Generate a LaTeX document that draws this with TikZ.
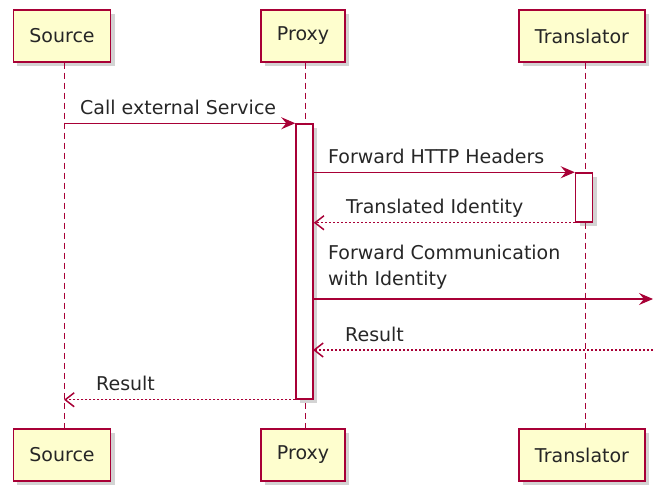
\documentclass[tikz,border=0pt]{standalone}
\usepackage{fontspec}
\setmainfont{DejaVu Sans}
\usepackage{xcolor}
\usepackage{tikz}
\usetikzlibrary{positioning}
\usetikzlibrary{arrows.meta,shadows}
\definecolor{umlred}{RGB}{168,0,54}
\definecolor{umlfill}{RGB}{254,254,206}

\begin{document}
\begin{tikzpicture}[x=1pt,y=-1pt,
        part/.style={draw=umlred,fill=umlfill,line width=1.5pt,minimum height=52pt,inner xsep=16pt,
          text=black!85,font=\fontsize{19pt}{23pt}\selectfont,
          drop shadow={shadow xshift=4pt,shadow yshift=-4pt,opacity=0.35}},
        life/.style={draw=umlred,line width=1pt,dash pattern=on 6pt off 4pt},
        act/.style={draw=umlred,fill=white,line width=1.5pt,minimum width=17pt,inner sep=0pt,
          drop shadow={shadow xshift=4pt,shadow yshift=-4pt,opacity=0.35}},
        call/.style={draw=umlred,line width=1.2pt,-{Stealth[length=14pt,width=12pt,inset=5pt]}},
        reply/.style={draw=umlred,line width=1.2pt,dash pattern=on 2pt off 2pt,
          -{Straight Barb[length=9pt,width=14pt,line width=1.5pt]}},
        msg/.style={anchor=base west,inner sep=0pt,text=black!85,align=left,
          font=\fontsize{19pt}{26pt}\selectfont}]
        \useasboundingbox (0,0) rectangle (653,486);
        % participants
        \node[part] (src) at (62,36) {Source};
        \node[part] (prx) at (303,36) {Proxy};
        \node[part] (trn) at (582,36) {Translator};
        \node[part] (srcB) at (62,455) {Source};
        \node[part] (prxB) at (303,455) {Proxy};
        \node[part] (trnB) at (582,455) {Translator};
        \draw[life] (src.south -| 64,0) -- (srcB.north -| 64,0);
        \draw[life] (prx.south -| 305,0) -- (prxB.north -| 305,0);
        \draw[life] (trn.south -| 585,0) -- (trnB.north -| 585,0);
        % activations
        \node[act,minimum height=275pt] (actP) at (304.5,261.5) {};
        \node[act,minimum height=49pt] (actT) at (584,197.5) {};
        \coordinate (m4a) at (313,299);
        \coordinate (m4b) at (653,299);
        \coordinate (m5a) at (653,350);
        \coordinate (m5b) at (313,350);
        % messages
        \draw[call] (64,0 |- actP.north) -- (actP.north west);
        \node[msg] (l1) at (80,115) {Call external Service};
        \draw[call] (actP.east |- actT.north) -- (actT.north west);
        \node[msg] (l2) at (328,164) {Forward HTTP Headers};
        \draw[reply] (actT.south west) -- (actP.east |- actT.south);
        \node[msg] (l3) at (346,214) {Translated Identity};
        \draw[call] (m4a) -- (m4b);
        \node[msg,anchor=south west] (l4) at (328,290) {Forward Communication\\with Identity};
        \draw[reply] (m5a) -- (m5b);
        \node[msg] (l5) at (345,341) {Result};
        \draw[reply] (actP.south west) -- (64,0 |- actP.south);
        \node[msg] (l6) at (96,390) {Result};
\end{tikzpicture}
\end{document}
